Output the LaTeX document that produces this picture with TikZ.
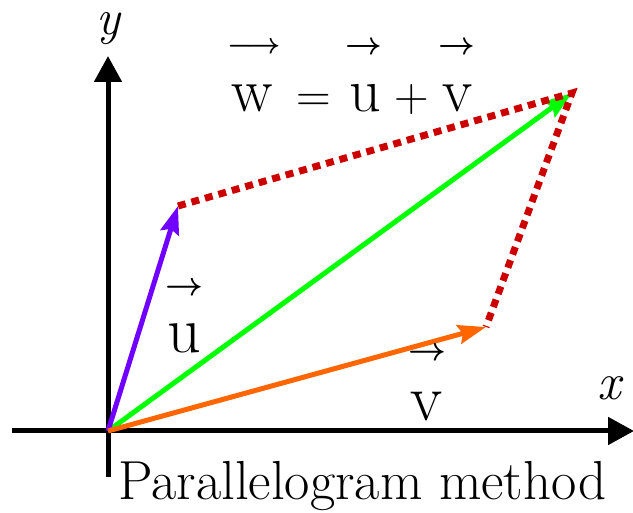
\RequirePackage{fix-cm}
\documentclass[tikz,border=0pt]{standalone}
\usepackage{amsmath}
\usetikzlibrary{arrows.meta}
\definecolor{uviolet}{RGB}{112,0,255}
\definecolor{vorange}{RGB}{255,102,0}
\definecolor{wgreen}{RGB}{0,255,0}
\definecolor{dred}{RGB}{204,0,0}
\tikzset{
  axis/.style={line width=5pt,-{Triangle[length=26pt,width=27pt]}},
  vec/.style={line width=5pt,-{Stealth[length=28pt,width=19pt,inset=4pt]}},
  side/.style={dred,line width=7pt,dash pattern=on 8pt off 6pt},
  lbl/.style={inner sep=0pt,anchor=base,text height=0.5em},
  varrow/.style={inner sep=0pt},
}
\newcommand{\fsz}[1]{\fontsize{#1}{#1}\selectfont}
\newcommand{\rar}{\ensuremath{\boldsymbol{\rightarrow}}}
\newcommand{\lrar}{\ensuremath{\boldsymbol{\longrightarrow}}}
\begin{document}
\begin{tikzpicture}[x=1pt,y=-1pt]
\useasboundingbox (0,0) rectangle (633,513);
\coordinate (O) at (108,431);
\coordinate (U) at (178,206);
\coordinate (V) at (486,327);
\coordinate (W) at (572,93);
\coordinate (xl) at (12,431);
\coordinate (xr) at (634,431);
\coordinate (yb) at (108,477);
\coordinate (yt) at (108,56);
\draw[axis] (xl) -- (xr);
\draw[axis] (yb) -- (yt);
\draw[vec,wgreen] (O) -- (W);
\draw[vec,uviolet] (O) -- (U);
\draw[vec,vorange] (O) -- (V);
\draw[side] (U) -- (W) -- (V);
\node[lbl] (ylab) at (108,35) {\fsz{50}\itshape y};
\node[lbl] (xlab) at (609,400) {\fsz{52}\itshape x};
\node[lbl] (ulab) at (184,353) {\fsz{66}u};
\node[varrow] (uarr) at (184,289) {\fsz{33}\rar};
\node[lbl] (vlab) at (427,421) {\fsz{66}v};
\node[varrow] (varr) at (427,354) {\fsz{33}\rar};
\node[lbl] (eqw) at (252,112) {\fsz{62}w};
\node[lbl] (eqeq) at (314,112) {\fsz{48}=};
\node[lbl] (equ) at (365,112) {\fsz{62}u};
\node[lbl] (eqplus) at (412,112) {\fsz{48}+};
\node[lbl] (eqv) at (458,112) {\fsz{62}v};
\node[varrow] (warr1) at (254,48) {\fsz{29}\lrar};
\node[varrow] (warr2) at (364,48) {\fsz{32}\rar};
\node[varrow] (warr3) at (457,48) {\fsz{32}\rar};
\node[inner sep=0pt,anchor=base west,text height=0.5em,text depth=0.15em] (title) at (118,500) {\fsz{55}Parallelogram method};
\end{tikzpicture}
\end{document}
